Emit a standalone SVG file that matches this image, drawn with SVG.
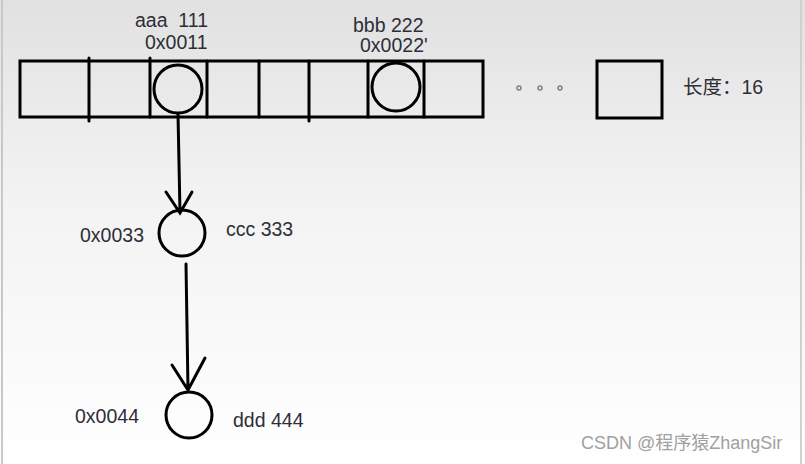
<svg xmlns="http://www.w3.org/2000/svg" width="805" height="464" viewBox="0 0 805 464">
<defs>
<linearGradient id="bg" x1="0" y1="0" x2="0" y2="1">
<stop offset="0" stop-color="#e1e1e1"/>
<stop offset="0.4" stop-color="#f2f2f2"/>
<stop offset="1" stop-color="#ffffff"/>
</linearGradient>
<style>
.ln{stroke:#000;stroke-width:3;fill:none;stroke-linecap:round}
.nd{stroke:#000;stroke-width:3;fill:none}
.t{font-family:"Liberation Sans","Noto Sans CJK SC",sans-serif;font-size:19.5px;fill:#2e2e38;white-space:pre}
.dot{fill:none;stroke:#8a7a8a;stroke-width:1.5}
</style>
</defs>
<rect width="805" height="464" fill="url(#bg)"/>
<line x1="2" y1="0" x2="2" y2="464" stroke="#c8c8c8" stroke-width="2"/>
<line x1="801" y1="0" x2="801" y2="464" stroke="#d0d0d0" stroke-width="2"/>

<g id="array">
<rect x="20" y="61" width="463" height="56" class="nd"/>
<line x1="89" y1="58" x2="89" y2="121" class="ln"/>
<line x1="150" y1="58" x2="150" y2="117" class="ln"/>
<line x1="207" y1="61" x2="207" y2="117" class="ln"/>
<line x1="259" y1="61" x2="259" y2="117" class="ln"/>
<line x1="309" y1="61" x2="309" y2="121" class="ln"/>
<line x1="368" y1="61" x2="368" y2="117" class="ln"/>
<line x1="424" y1="61" x2="424" y2="117" class="ln"/>
</g>

<g id="node-aaa">
<circle cx="178" cy="89" r="24" class="nd"/>
<text x="135" y="27" class="t" xml:space="preserve">aaa  111</text>
<text x="145" y="49" class="t">0x0011</text>
</g>

<g id="node-bbb">
<circle cx="396" cy="87" r="24" class="nd"/>
<text x="353" y="32" class="t">bbb 222</text>
<text x="360" y="52" class="t">0x0022'</text>
</g>

<g id="ellipsis">
<circle cx="519" cy="88" r="2" class="dot"/>
<circle cx="540" cy="88" r="2" class="dot"/>
<circle cx="560" cy="88" r="2" class="dot"/>
</g>

<g id="last-cell">
<rect x="597" y="61" width="65" height="57" class="nd"/>
<text x="683" y="94" class="t">长度：16</text>
</g>

<g id="node-ccc">
<circle cx="182" cy="233" r="23" class="nd"/>
<text x="80" y="242" class="t">0x0033</text>
<text x="226" y="236" class="t">ccc 333</text>
</g>

<g id="node-ddd">
<circle cx="189" cy="415" r="23" class="nd"/>
<text x="75" y="423" class="t">0x0044</text>
<text x="233" y="427" class="t">ddd 444</text>
</g>

<g id="connectors">
<path d="M178 114 L180 213 M166 192 L180 213 L192 192" class="ln"/>
<path d="M186 264 L188 390 M172 365 L188 390 L205 358" class="ln"/>
</g>

<text x="581" y="449" style="font-family:'Liberation Sans','Noto Sans CJK SC',sans-serif;font-size:18px;fill:#a0a0a0">CSDN @程序猿ZhangSir</text>
</svg>
